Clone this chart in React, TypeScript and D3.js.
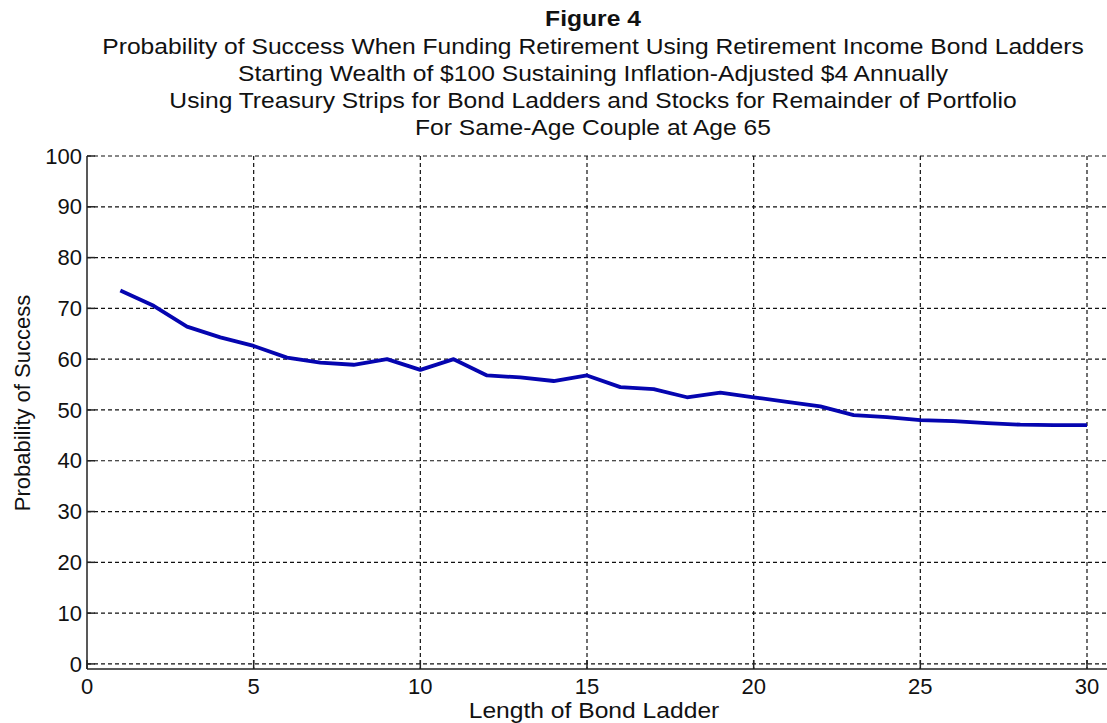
import React from "react";
import * as d3 from "d3";

// Bond ladder length (years) and the matching probability of success (%)
const ladderLength = [
  1, 2, 3, 4, 5, 6, 7, 8, 9, 10, 11, 12, 13, 14, 15,
  16, 17, 18, 19, 20, 21, 22, 23, 24, 25, 26, 27, 28, 29, 30,
];
const successProb = [
  73.5, 70.5, 66.4, 64.3, 62.6, 60.3, 59.3, 58.9, 60.0, 57.9,
  60.0, 56.8, 56.4, 55.7, 56.8, 54.5, 54.1, 52.5, 53.4, 52.5,
  51.6, 50.7, 49.0, 48.6, 48.0, 47.8, 47.4, 47.1, 47.0, 47.0,
];
const xTicks = [0, 5, 10, 15, 20, 25, 30];
const yTicks = [0, 10, 20, 30, 40, 50, 60, 70, 80, 90, 100];

const titleLines = [
  "Probability of Success When Funding Retirement Using Retirement Income Bond Ladders",
  "Starting Wealth of $100 Sustaining Inflation-Adjusted $4 Annually",
  "Using Treasury Strips for Bond Ladders and Stocks for Remainder of Portfolio",
  "For Same-Age Couple at Age 65",
];
const figureLabel = "Figure 4";
const xLabel = "Length of Bond Ladder";
const yLabel = "Probability of Success";

const W = 1107;
const H = 723;
const left = 87;
const right = 1107;
const top = 156;
const bottom = 669;
const FONT = "Arial, 'Liberation Sans', Helvetica, sans-serif";
const stretch = 1.12;
const titleCx = 593;

export default function App() {
  const x = d3.scaleLinear().domain([0, 30]).range([left, 1087]);
  const y = d3.scaleLinear().domain([-1, 100]).range([bottom, top]);

  const line = d3
    .line<number>()
    .x((_, i) => x(ladderLength[i]))
    .y((d) => y(d));

  const baselines = [54, 81, 108, 135];

  return (
    <svg
      width={W}
      height={H}
      style={{ position: "absolute", left: 0, top: 0, background: "#fff" }}
      fontFamily={FONT}
    >
      <rect width={W} height={H} fill="#fff" />

      {/* titles */}
      <g transform={`translate(${titleCx},26) scale(${stretch},1)`}>
        <text textAnchor="middle" fontSize={22} fontWeight="bold" fill="#111">
          {figureLabel}
        </text>
      </g>
      {titleLines.map((t, i) => (
        <g key={t} transform={`translate(${titleCx},${baselines[i]}) scale(${stretch},1)`}>
          <text textAnchor="middle" fontSize={22} fill="#111">
            {t}
          </text>
        </g>
      ))}

      {/* grid */}
      <g stroke="#111" strokeWidth={1.2} strokeDasharray="4,3">
        {yTicks.map((v) => (
          <line key={"gy" + v} x1={left} x2={right} y1={y(v)} y2={y(v)} />
        ))}
        {xTicks.filter((v) => v > 0).map((v) => (
          <line key={"gx" + v} x1={x(v)} x2={x(v)} y1={top} y2={bottom} />
        ))}
      </g>

      {/* axes */}
      <g stroke="#222" strokeWidth={1.5}>
        <line x1={left} x2={left} y1={top} y2={bottom} />
        <line x1={left} x2={right} y1={bottom} y2={bottom} />
        {yTicks.map((v) => (
          <line key={"ty" + v} x1={left} x2={left + 8} y1={y(v)} y2={y(v)} />
        ))}
        {xTicks.map((v) => (
          <line key={"tx" + v} x1={x(v)} x2={x(v)} y1={bottom} y2={bottom - 9} />
        ))}
      </g>

      {/* tick labels */}
      <g fontSize={22} fill="#111">
        {yTicks.map((v) => (
          <text key={"ly" + v} x={left - 5} y={y(v)} dy="0.35em" textAnchor="end">
            {v}
          </text>
        ))}
        {xTicks.map((v) => (
          <text key={"lx" + v} x={x(v)} y={694} textAnchor="middle">
            {v}
          </text>
        ))}
      </g>

      {/* axis labels */}
      <g transform={`translate(594,718) scale(${stretch},1)`}>
        <text textAnchor="middle" fontSize={22} fill="#111">
          {xLabel}
        </text>
      </g>
      <text
        transform={`translate(30,403) rotate(-90)`}
        textAnchor="middle"
        fontSize={22}
        fill="#111"
      >
        {yLabel}
      </text>

      {/* data line */}
      <path
        d={line(successProb) || ""}
        fill="none"
        stroke="#0505b0"
        strokeWidth={3.8}
        strokeLinejoin="round"
      />
    </svg>
  );
}
